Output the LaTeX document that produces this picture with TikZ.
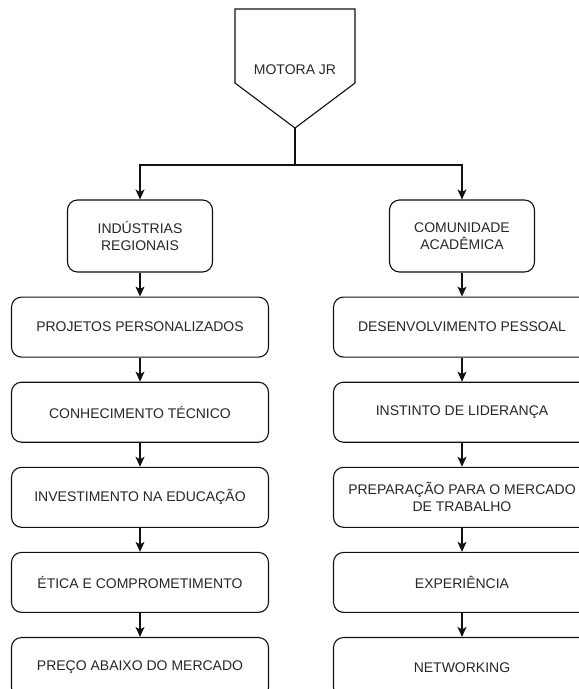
\documentclass[tikz,border=0pt]{standalone}
\usepackage{fontspec}
\setmainfont{Liberation Sans}
\usetikzlibrary{positioning,arrows.meta}
\definecolor{linecol}{HTML}{111111}
\definecolor{textcol}{HTML}{262626}
\tikzset{
  topbox/.style={draw=linecol,line width=1.1pt,rounded corners=10pt,minimum width=145pt,minimum height=72pt,align=center,text=textcol,font=\fontsize{14pt}{17pt}\selectfont},
  itembox/.style={draw=linecol,line width=1.1pt,rounded corners=10pt,minimum width=257pt,minimum height=60pt,align=center,text=textcol,font=\fontsize{14pt}{17pt}\selectfont},
  arr/.style={draw=linecol,line width=1.1pt,-{Stealth[length=10pt,width=9pt,inset=2.5pt]}}
}
\begin{document}
\begin{tikzpicture}[x=1pt,y=1pt,node distance=24pt]
  \useasboundingbox(0,0)rectangle(579,-689);
  \clip(0,0)rectangle(579,-689);
  % top
  \draw[draw=linecol,line width=1.1pt](235,-9)--(355,-9)--(355,-83)--(295,-128)--(235,-83)--cycle;
  \node[text=textcol,font=\fontsize{14pt}{17pt}\selectfont](motora)at(295,-70){MOTORA JR};
  \coordinate(tip)at(295,-128);
  \coordinate(split)at(295,-165);
  \node[topbox](ind)at(140,-236){INDÚSTRIAS\\REGIONAIS};
  \node[topbox](com)at(462,-236){COMUNIDADE\\ACADÊMICA};
  \draw[draw=linecol,line width=1.1pt](tip)--(split);
  \draw[arr](split)-|(ind);
  \draw[arr](split)-|(com);
  % left
  \node[itembox,below=of ind](proj){PROJETOS PERSONALIZADOS};
  \node[itembox,below=of proj](conh){CONHECIMENTO TÉCNICO};
  \node[itembox,below=of conh](inv){INVESTIMENTO NA EDUCAÇÃO};
  \node[itembox,below=of inv](etica){ÉTICA E COMPROMETIMENTO};
  \node[itembox,below=of etica](preco){PREÇO ABAIXO DO MERCADO};
  % right
  \node[itembox,below=of com](desenv){DESENVOLVIMENTO PESSOAL};
  \node[itembox,below=of desenv](inst){INSTINTO DE LIDERANÇA};
  \node[itembox,below=of inst](prep){PREPARAÇÃO PARA O MERCADO\\DE TRABALHO};
  \node[itembox,below=of prep](exp){EXPERIÊNCIA};
  \node[itembox,below=of exp](net){NETWORKING};
  \foreach \a/\b in {ind/proj,proj/conh,conh/inv,inv/etica,etica/preco,com/desenv,desenv/inst,inst/prep,prep/exp,exp/net}
    \draw[arr](\a)--(\b);
\end{tikzpicture}
\end{document}
